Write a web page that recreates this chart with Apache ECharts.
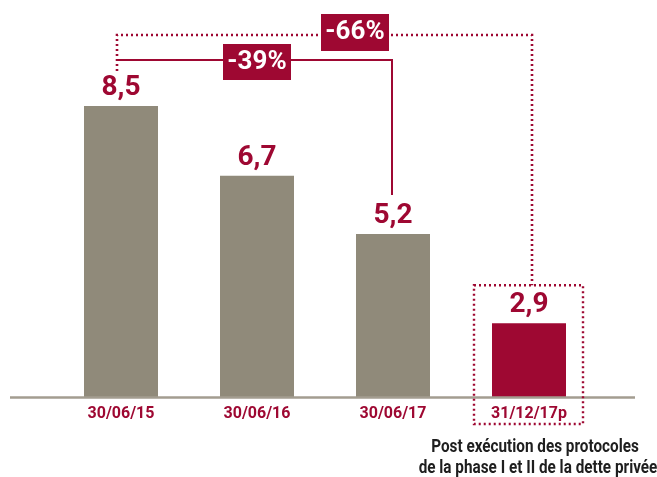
<!DOCTYPE html>
<html>
<head>
<meta charset="utf-8">
<script src="https://cdn.jsdelivr.net/npm/echarts@6/dist/echarts.min.js"></script>
<style>
html,body{margin:0;padding:0;background:#fff;}
#c{width:657px;height:477px;}
</style>
</head>
<body>
<div id="c"></div>
<script>
const categories = ['30/06/15', '30/06/16', '30/06/17', '31/12/17p'];
const values = [8.5, 6.7, 5.2, 2.9];
const changeLabels = ['-39%', '-66%'];
const footnote = ['Post exécution des protocoles', 'de la phase I et II de la dette privée'];

const GRAY = '#908a7a';
const RED = '#9e0832';
const AXIS = '#a39d90';
const FONT = 'Roboto, sans-serif';

const chart = echarts.init(document.getElementById('c'), null, {renderer: 'canvas'});

chart.setOption({
  animation: false,
  grid: {left: 53, right: 60, top: 86.6, bottom: 80},
  xAxis: {
    type: 'category',
    data: categories,
    axisLine: {show: false},
    axisTick: {show: false},
    axisLabel: {
      color: RED,
      fontFamily: FONT,
      fontWeight: 'bold',
      fontSize: 16,
      margin: 9
    }
  },
  yAxis: {
    type: 'value',
    min: 1,
    max: 9,
    show: false,
    splitLine: {show: false}
  },
  series: [{
    type: 'bar',
    barWidth: 74,
    data: values.map((v, i) => ({
      value: v,
      itemStyle: {color: i === values.length - 1 ? RED : GRAY}
    })),
    label: {
      show: true,
      position: 'top',
      distance: 4,
      color: RED,
      fontFamily: FONT,
      fontWeight: 'bold',
      fontSize: 28,
      formatter: p => String(p.value).replace('.', ',')
    }
  }]
});

function draw() {
  const px = (i, v) => chart.convertToPixel({xAxisIndex: 0, yAxisIndex: 0}, [i, v]);
  const base = px(0, 1)[1];
  const b1 = px(0, values[0]);
  const b3 = px(2, values[2]);
  const b4 = px(3, values[3]);
  const gridLeft = 53, gridRight = 657 - 60;

  const solidY = 60, dotY = 35;
  const lx = b1[0] - 4;
  const rx3 = b3[0] - 1;
  const rx4 = b4[0] + 3;
  const boxTop = b4[1] - 38;
  const boxBottom = base + 27;

  const footStyle = t => ({text: t, fill: '#1e1e1e', font: 'bold 18px ' + FONT,
    textAlign: 'center', textVerticalAlign: 'middle'});

  const els = [
    {type: 'line', shape: {x1: gridLeft - 43, y1: base + 0.5, x2: gridRight + 38, y2: base + 0.5},
      style: {stroke: AXIS, lineWidth: 2.5}, z: 10},
    {type: 'polyline', shape: {points: [[lx, solidY], [rx3, solidY], [rx3, b3[1] - 39]]},
      style: {stroke: RED, lineWidth: 2, fill: null}, z: 10},
    {type: 'polyline', shape: {points: [[lx, solidY + 11], [lx, dotY], [rx4, dotY], [rx4, boxTop]]},
      style: {stroke: RED, lineWidth: 2.6, fill: null, lineDash: [2, 3]}, z: 10},
    {type: 'rect', shape: {x: b4[0] - 55, y: boxTop, width: 109, height: boxBottom - boxTop},
      style: {stroke: RED, lineWidth: 2.4, fill: null, lineDash: [2, 3]}, z: 10},
    {type: 'rect', shape: {x: 223, y: 44, width: 68, height: 36}, style: {fill: RED}, z: 20},
    {type: 'text', x: 257, y: 62, style: {text: changeLabels[0], fill: '#fff',
      font: 'bold 26px ' + FONT, textAlign: 'center', textVerticalAlign: 'middle'}, z: 21},
    {type: 'rect', shape: {x: 321, y: 14, width: 68, height: 37}, style: {fill: RED}, z: 20},
    {type: 'text', x: 355, y: 32.5, style: {text: changeLabels[1], fill: '#fff',
      font: 'bold 26px ' + FONT, textAlign: 'center', textVerticalAlign: 'middle'}, z: 21},
    {type: 'text', x: 535, y: 447, scaleX: 0.85, style: footStyle(footnote[0]), z: 21},
    {type: 'text', x: 538, y: 468, scaleX: 0.85, style: footStyle(footnote[1]), z: 21}
  ];
  chart.setOption({graphic: {elements: els}});
}
draw();
</script>
</body>
</html>
